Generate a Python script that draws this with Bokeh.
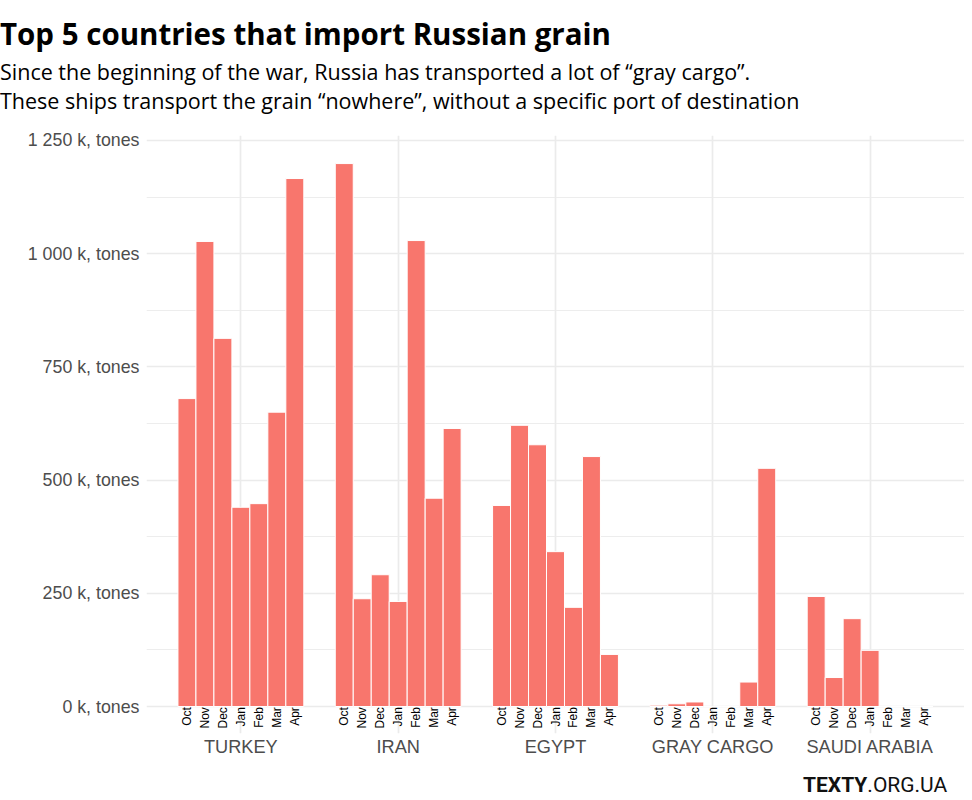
from math import pi
from bokeh.plotting import figure
from bokeh.models import ColumnDataSource, Range1d, FixedTicker, Div
from bokeh.layouts import column
from bokeh.core.properties import value
from bokeh.embed import file_html
from bokeh.resources import INLINE

# ---- data (thousand tonnes) ----
countries = ["TURKEY", "IRAN", "EGYPT", "GRAY CARGO", "SAUDI ARABIA"]
months = ["Oct", "Nov", "Dec", "Jan", "Feb", "Mar", "Apr"]
turkey = [680, 1027, 813, 440, 448, 650, 1166]
iran = [1199, 238, 291, 232, 1029, 460, 614]
egypt = [444, 621, 578, 342, 219, 552, 115]
gray_cargo = [3, 6, 10, 0, 0, 54, 526]
saudi_arabia = [243, 64, 194, 124, 0, 0, 0]
y_ticks = [0, 250, 500, 750, 1000, 1250]
y_minor = [125, 375, 625, 875, 1125]

title = "Top 5 countries that import Russian grain"
subtitle1 = "Since the beginning of the war, Russia has transported a lot of \u201cgray cargo\u201d."
subtitle2 = "These ships transport the grain \u201cnowhere\u201d, without a specific port of destination"

series = [turkey, iran, egypt, gray_cargo, saudi_arabia]

dodge = 0.8
bw = dodge / len(months)
xs, tops, mlab = [], [], []
for ci, vals in enumerate(series):
    for mi, v in enumerate(vals):
        xs.append(ci + 1 + (mi - (len(months) - 1) / 2) * bw)
        tops.append(v)
        mlab.append(months[mi])
src = ColumnDataSource(dict(x=xs, top=tops, month=mlab, ly=[-1.5] * len(xs)))

W = 964
p = figure(width=W, height=645, output_backend="svg", toolbar_location=None,
           x_range=Range1d(0.4, 5.6), y_range=Range1d(-59.6, 1261),
           min_border_left=146, min_border_right=0, min_border_top=17,
           min_border_bottom=30, background_fill_color="white",
           border_fill_color="white")
p.outline_line_color = None

GRID = "#EBEBEB"
# y axis
p.yaxis.ticker = FixedTicker(ticks=y_ticks, minor_ticks=y_minor)
p.yaxis.major_label_overrides = {t: f"{t:,}".replace(",", " ") + " k, tones" for t in y_ticks}
p.yaxis.axis_line_color = None
p.yaxis.major_tick_line_color = None
p.yaxis.minor_tick_line_color = None
p.yaxis.major_tick_out = 0
p.yaxis.major_label_standoff = 3
p.yaxis.major_label_text_font = "Liberation Sans"
p.yaxis.major_label_text_font_size = "17.8px"
p.yaxis.major_label_text_color = "#4D4D4D"
p.ygrid.grid_line_color = GRID
p.ygrid.grid_line_width = 1.7
p.ygrid.minor_grid_line_color = GRID
p.ygrid.minor_grid_line_width = 0.9

# x axis
p.xaxis.ticker = FixedTicker(ticks=[1, 2, 3, 4, 5], minor_ticks=[])
p.xaxis.major_label_overrides = {i + 1: c for i, c in enumerate(countries)}
p.xaxis.axis_line_color = None
p.xaxis.major_tick_line_color = None
p.xaxis.minor_tick_line_color = None
p.xaxis.major_tick_out = 0
p.xaxis.major_label_standoff = 3
p.xaxis.major_label_text_font = "Liberation Sans"
p.xaxis.major_label_text_font_size = "18.2px"
p.xaxis.major_label_text_color = "#4D4D4D"
p.xgrid.grid_line_color = GRID
p.xgrid.grid_line_width = 1.7

# bars
p.vbar(x="x", top="top", bottom=0, width=bw, source=src,
       fill_color="#F8766D", line_color="white", line_width=1)

# month labels
p.text(x="x", y="ly", text="month", source=src, angle=pi / 2,
       text_align="right", text_baseline="middle",
       text_font=value("Liberation Sans"), text_font_size="12px",
       text_color="black")

line = "position:absolute;left:0px;white-space:nowrap;line-height:1;margin:0;color:#000;font-family:'Open Sans';"
header = Div(width=W, height=118, margin=0, text=(
    '<div style="position:relative;width:%dpx;height:118px;">' % W
    + '<div style="%stop:18.8px;font-size:29.5px;font-weight:bold;">%s</div>' % (line, title)
    + '<div style="%stop:60.9px;font-size:21.5px;">%s</div>' % (line, subtitle1)
    + '<div style="%stop:89.9px;font-size:21.5px;">%s</div>' % (line, subtitle2)
    + '</div>'))

logo = Div(width=W, height=29, margin=0, text=(
    '<div style="position:relative;width:%dpx;height:29px;">' % W
    + '<div style="position:absolute;left:803px;top:12px;white-space:nowrap;line-height:1;'
      'font-family:Roboto;font-size:21px;color:#111;">'
      '<span style="font-weight:bold;">TEXTY</span>.ORG.UA</div></div>'))

layout = column(header, p, logo, spacing=0)
open("out.html", "w").write(file_html(layout, INLINE))
